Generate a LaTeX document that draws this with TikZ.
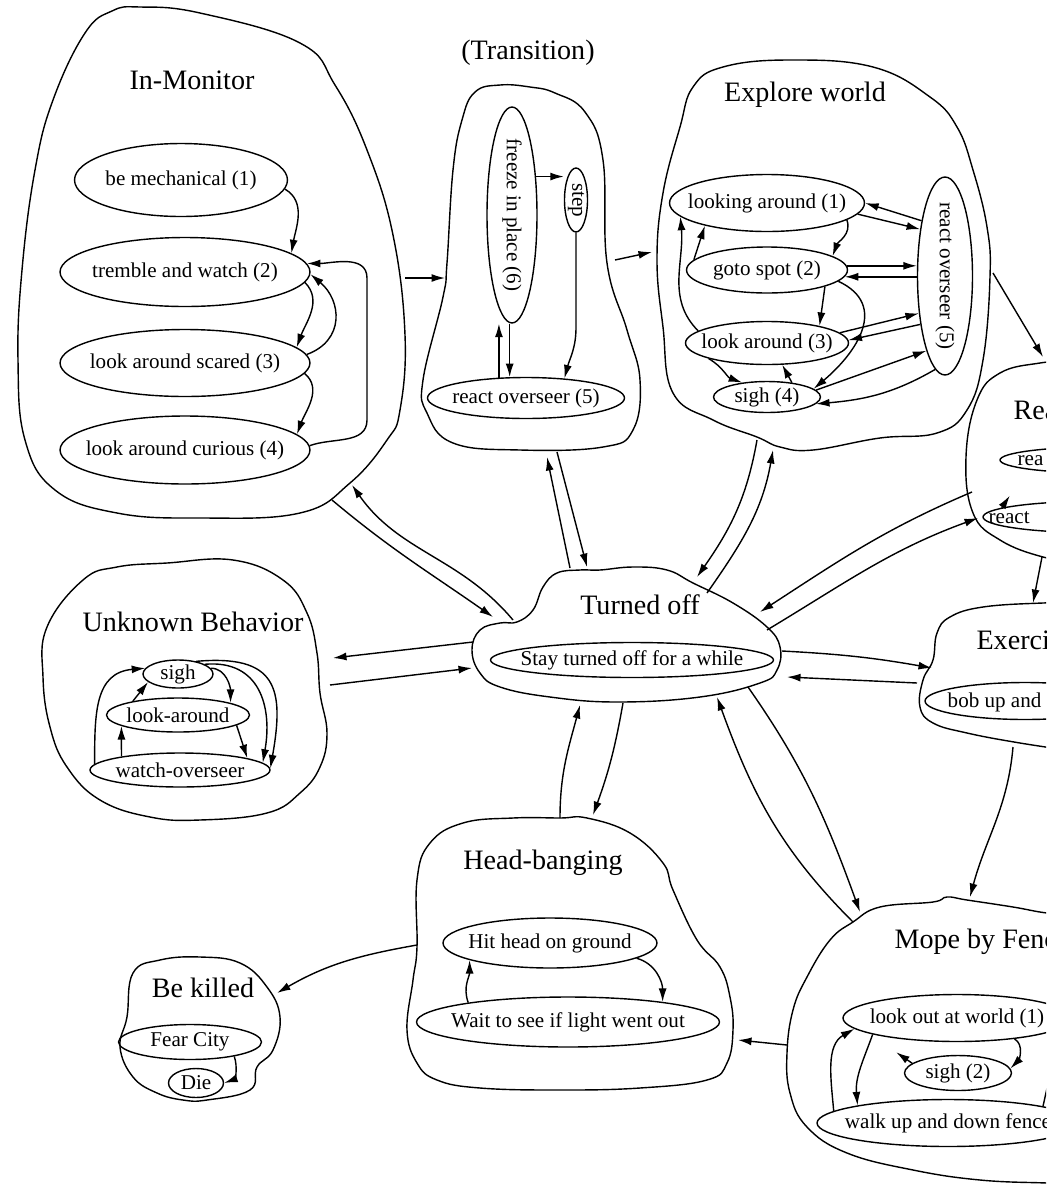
\documentclass[tikz,border=0pt]{standalone}
\usepackage{fontspec}
\setmainfont{Liberation Serif}
\usetikzlibrary{arrows.meta,shapes.geometric}

\begin{document}
\begin{tikzpicture}[x=0.02cm, y=-0.02cm, line width=0.8pt,
  >={Latex[length=2.7mm,width=1.6mm]},
  beh/.style 2 args={draw, ellipse, inner sep=-100pt, minimum width=#1*0.2mm, minimum height=#2*0.2mm, font=\fontsize{12}{14}\selectfont},
  vbeh/.style 2 args={beh={#1}{#2}, rotate=-90},
  txt/.style={font=\fontsize{12}{14}\selectfont, inner sep=0pt, anchor=west},
  grouptitle/.style={font=\fontsize{16}{19}\selectfont}]
  \useasboundingbox (0,0) rectangle (1049,1184);
  \clip (0,0) rectangle (1046,1184);

  \draw plot[smooth cycle, tension=0.7] coordinates {(112,11) (140,7) (200,13) (300,43) (335,85) (367,150) (393,235) (405,335) (400,410) (387,440) (350,483) (300,513) (200,518) (117,513) (55,490) (25,440) (18,360) (22,270) (35,170) (53,100) (85,33)};
  \draw plot[smooth cycle, tension=0.7] coordinates {(475,92) (500,85) (530,87) (555,93) (585,112) (603,160) (607,263) (627,330) (640,380) (633,430) (603,447) (520,450) (453,443) (427,413) (423,380) (443,297) (447,263) (453,170) (462,120)};
  \draw plot[smooth cycle, tension=0.7] coordinates {(693,87) (723,67) (790,60) (873,67) (930,97) (957,127) (973,170) (987,227) (990,277) (983,360) (967,410) (937,433) (880,438) (813,450) (780,447) (757,437) (713,420) (673,393) (663,327) (657,260) (663,193) (680,127)};
  \draw plot[smooth, tension=0.7] coordinates {(1080,360) (1040,363) (1000,373) (977,400) (966,457) (973,513) (1000,540) (1043,557) (1080,562)};
  \draw plot[smooth, tension=0.7] coordinates {(1080,603) (1043,603) (983,607) (950,617) (937,633) (933,660) (923,680) (920,707) (933,723) (967,733) (1020,743) (1080,752)};
  \draw plot[smooth cycle, tension=0.7] coordinates {(472,650) (480,630) (500,623) (517,622) (533,610) (543,587) (557,573) (580,570) (600,570) (633,567) (667,570) (693,583) (733,603) (767,627) (780,647) (777,670) (760,683) (700,697) (617,702) (550,697) (500,687) (480,673)};
  \draw plot[smooth cycle, tension=0.7] coordinates {(47,627) (83,580) (117,567) (167,563) (233,560) (283,580) (307,613) (317,653) (320,693) (327,733) (320,767) (300,793) (267,813) (200,820) (150,817) (100,800) (67,767) (50,727) (43,677)};
  \draw plot[smooth cycle, tension=0.7] coordinates {(513,818) (560,818) (587,818) (630,833) (663,863) (673,890) (697,940) (720,967) (730,997) (733,1030) (727,1063) (707,1080) (640,1088) (560,1090) (480,1088) (437,1080) (417,1063) (407,1030) (413,980) (417,947) (417,880) (430,843) (463,823)};
  \draw plot[smooth cycle, tension=0.7] coordinates {(127,1017) (133,973) (160,960) (200,957) (240,963) (267,987) (280,1017) (273,1050) (257,1067) (250,1090) (207,1100) (183,1100) (157,1093) (133,1077) (120,1047)};
  \draw plot[smooth, tension=0.7] coordinates {(1080,915) (1047,913) (1013,907) (967,900) (947,897) (933,902) (880,907) (853,922) (830,940) (807,977) (793,1010) (787,1053) (790,1093) (807,1127) (847,1153) (913,1170) (980,1180) (1047,1183) (1080,1184)};

  \node[grouptitle] (imt) at (192,80) {In-Monitor};
  \node[beh={213}{73}] (bm) at (181,180) {be mechanical (1)};
  \node[beh={250}{69}] (tw) at (185,272) {tremble and watch (2)};
  \node[beh={250}{67}] (ls) at (185,363) {look around scared (3)};
  \node[beh={250}{68}] (lc) at (185,450) {look around curious (4)};
  \draw[->] (bm.-5) to[out=-30,in=80] (tw.10);
  \draw[->] (tw.-5) to[out=-45,in=70] (ls.8);
  \draw[->] (ls.4) to[out=20,in=-40,looseness=1.3] (tw.-1);
  \draw[->] (ls.-5) to[out=-40,in=70] (lc.8);
  \draw[->] (lc.2) to[out=20,in=-90] (367,420) -- (367,278) to[out=90,in=0] (tw.4);

  \node[grouptitle] (trt) at (528,53) {(Transition)};
  \node[vbeh={216}{50}] (fz) at (512,215) {freeze in place (6)};
  \node[vbeh={64}{23}] (sp) at (576,200) {step};
  \node[beh={197}{41}] (ro1) at (526,398) {react overseer (5)};
  \draw[->] (fz.148) -- (fz.148 -| sp.south);
  \draw[->] (sp.east) -- ++(0,95) to[out=-90,in=75] (ro1.27);
  \draw[->] (ro1.143) -- (ro1.143 |- fz.east);
  \draw[->] (ro1.128 |- fz.east) -- (ro1.128);

  \node[grouptitle] (ewt) at (805,95) {Explore world};
  \node[beh={195}{57}] (la) at (767,203) {looking around (1)};
  \node[beh={161}{46}] (gs) at (767,270) {goto spot (2)};
  \node[beh={163}{43}] (lk) at (767,343) {look around (3)};
  \node[beh={107}{31}] (sg4) at (767,397) {sigh (4)};
  \node[vbeh={198}{55}] (ro2) at (945,276) {react overseer (5)};
  \draw[->] (la.-7) -- (ro2.208);
  \draw[->] (ro2.203) -- (la.0);
  \draw[->] (la.-12) to[out=-70,in=70] (gs.12);
  \draw[->] (gs.172) -- (la.200);
  \draw[->] (gs.3) -- (gs.3 -| ro2.south);
  \draw[->] (ro2.south |- gs.-5) -- (gs.-5);
  \draw[->] (gs.-16) -- (lk.18);
  \draw[->] (gs.-9) to[out=-25,in=40,looseness=1.3] (sg4.10);
  \draw[->] (lk.8) -- (ro2.325);
  \draw[->] (ro2.333) -- (lk.2);
  \draw[->] (lk.195) to[out=-30,in=160] (sg4.150);
  \draw[->] (sg4.30) -- (lk.-55);
  \draw[->] (lk.170) to[out=135,in=-85] (la.189);
  \draw[->] (sg4.8) -- (ro2.346);
  \draw[->] (ro2.354) to[out=-150,in=5] (sg4.-8);

  \node[grouptitle, anchor=west] (rct) at (1007,410) {Rea};
  \node[beh={200}{26}] (rr1) at (1100,460) {};
  \node[txt] (rr1t) at (1017,461) {rea};
  \node[beh={214}{31}] (rr2) at (1090,517) {};
  \node[txt] (rr2t) at (988,518) {react};
  \draw[->] (rr2.174) -- ++(8,-12);

  \node[grouptitle, anchor=west] (ext) at (970,640) {Exercise};
  \node[beh={200}{37}] (bu) at (1025,701) {};
  \node[txt] (but) at (947,702) {bob up and down};

  \node[grouptitle] (tot) at (640,605) {Turned off};
  \node[beh={283}{35}] (st) at (632,660) {Stay turned off for a while};

  \node[grouptitle] (unt) at (193,622) {Unknown Behavior};
  \node[beh={70}{28}] (sg) at (178,674) {sigh};
  \node[beh={143}{34}] (lka) at (178,715) {look-around};
  \node[beh={180}{34}] (wo) at (180,770) {watch-overseer};
  \draw[->] (wo.176) to[out=90,in=185,looseness=1.2] (sg.170);
  \draw[->] (lka.163) -- (sg.195);
  \draw[->] (wo.167) -- (lka.191);
  \draw[->] (sg.10) to[out=0,in=90] (lka.13);
  \draw[->] (lka.-10) -- (wo.10);
  \draw[->] (sg.35) to[out=5,in=80,looseness=1.6] (wo.1);
  \draw[->] (sg.20) to[out=5,in=80,looseness=1.25] (wo.5);

  \node[grouptitle] (hbt) at (543,863) {Head-banging};
  \node[beh={214}{50}] (hh) at (550,943) {Hit head on ground};
  \node[beh={303}{50}] (ww) at (568,1022) {Wait to see if light went out};
  \draw[->] (ww.169) to[out=110,in=-90] (hh.192);
  \draw[->] (hh.-10) to[out=-15,in=90] (ww.12);

  \node[grouptitle] (bkt) at (203,988) {Be killed};
  \node[beh={143}{35}] (fc) at (190,1042) {Fear City};
  \node[beh={55}{29}] (die) at (196,1083) {Die};
  \draw[->] (fc.-18) to[out=-70,in=20] (die.east);

  \node[grouptitle, anchor=west] (mft) at (888,942) {Mope by Fence};
  \node[beh={228}{47}] (lw) at (957,1018) {look out at world (1)};
  \node[beh={107}{35}] (s2) at (958,1073) {sigh (2)};
  \node[beh={262}{47}] (wf) at (948,1123) {walk up and down fence};
  \draw[->] (wf.174) to[out=95,in=-150] (lw.186);
  \draw[->] (lw.191) to[out=-110,in=95] (wf.169);
  \draw[->] (s2.168) -- ++(-16,-11);
  \draw[->] (lw.-20) to[out=-30,in=45] (s2.5);
  \draw (wf.10) -- ++(10,-45);

  \coordinate (im-e) at (405,278);
  \coordinate (im-s1) at (332,500);
  \coordinate (im-s2) at (352,485);
  \coordinate (tr-w) at (445,278);
  \coordinate (tr-e) at (615,260);
  \coordinate (tr-s1) at (547,457);
  \coordinate (tr-s2) at (557,452);
  \coordinate (ew-w) at (652,252);
  \coordinate (ew-e) at (993,273);
  \coordinate (ew-s1) at (757,440);
  \coordinate (ew-s2) at (773,450);
  \coordinate (rc-n) at (1043,357);
  \coordinate (rc-w1) at (972,492);
  \coordinate (rc-w2) at (978,518);
  \coordinate (rc-s) at (1042,557);
  \coordinate (ex-n) at (1033,603);
  \coordinate (ex-w1) at (932,668);
  \coordinate (ex-w2) at (917,683);
  \coordinate (ex-s) at (1013,747);
  \coordinate (mf-n1) at (970,897);
  \coordinate (mf-n2) at (860,912);
  \coordinate (mf-nw) at (853,922);
  \coordinate (mf-w) at (787,1045);
  \coordinate (hb-e) at (738,1040);
  \coordinate (hb-w) at (417,945);
  \coordinate (hb-n1) at (560,818);
  \coordinate (hb-n2) at (593,815);
  \coordinate (bk-e) at (277,993);
  \coordinate (un-e1) at (333,658);
  \coordinate (un-e2) at (330,685);
  \coordinate (to-nw1) at (493,617);
  \coordinate (to-nw2) at (513,620);
  \coordinate (to-n1) at (570,568);
  \coordinate (to-n2) at (587,567);
  \coordinate (to-ne1) at (697,577);
  \coordinate (to-ne2) at (707,593);
  \coordinate (to-ne3) at (760,612);
  \coordinate (to-ne4) at (767,630);
  \coordinate (to-e1) at (782,651);
  \coordinate (to-e2) at (787,677);
  \coordinate (to-se1) at (748,687);
  \coordinate (to-se2) at (717,697);
  \coordinate (to-s1) at (580,705);
  \coordinate (to-s2) at (623,703);
  \coordinate (to-w1) at (473,642);
  \coordinate (to-w2) at (472,668);

  \draw[->] (im-e) -- (tr-w);
  \draw[->] (tr-e) -- (ew-w);
  \draw[->] (ew-e) -- (rc-n);
  \draw[->] (rc-s) -- (ex-n);
  \draw[->] (ex-s) to[out=-95,in=75] (mf-n1);
  \draw[->] (mf-w) -- (hb-e);
  \draw[->] (hb-w) to[out=190,in=30] (bk-e);
  \draw[->] (im-s1) to[out=-40,in=145] (to-nw1);
  \draw[->] (to-nw2) to[out=130,in=-55] (im-s2);
  \draw[->] (to-n1) -- (tr-s1);
  \draw[->] (tr-s2) -- (to-n2);
  \draw[->] (ew-s1) to[out=-100,in=55] (to-ne1);
  \draw[->] (to-ne2) to[out=55,in=-100] (ew-s2);
  \draw[->] (rc-w1) to[out=-157,in=33] (to-ne3);
  \draw[->] (to-ne4) to[out=31,in=-160] (rc-w2);
  \draw[->] (to-e1) to[out=-3,in=170] (ex-w1);
  \draw[->] (ex-w2) -- (to-e2);
  \draw[->] (to-se1) to[out=-55,in=110] (mf-n2);
  \draw[->] (mf-nw) to[out=135,in=-70] (to-se2);
  \draw[->] (hb-n1) to[out=90,in=-105] (to-s1);
  \draw[->] (to-s2) to[out=-100,in=70] (hb-n2);
  \draw[->] (to-w1) -- (un-e1);
  \draw[->] (un-e2) -- (to-w2);
\end{tikzpicture}
\end{document}
